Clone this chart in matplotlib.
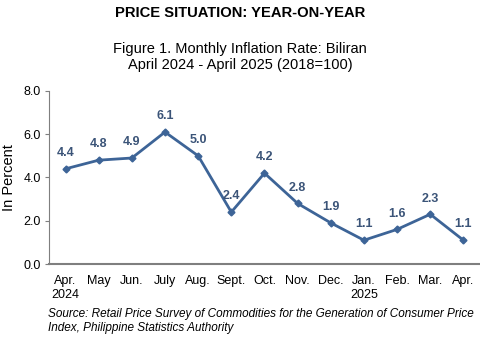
import matplotlib.pyplot as plt
import numpy as np

plt.rcParams["font.family"] = ["Liberation Sans", "DejaVu Sans"]

months = ["Apr.\n2024", "May", "Jun.", "July", "Aug.", "Sept.", "Oct.",
          "Nov.", "Dec.", "Jan.\n2025", "Feb.", "Mar.", "Apr."]
inflation = [4.4, 4.8, 4.9, 6.1, 5.0, 2.4, 4.2, 2.8, 1.9, 1.1, 1.6, 2.3, 1.1]
y_ticks = [0.0, 2.0, 4.0, 6.0, 8.0]

line_color = "#3D6497"
label_color = "#3B5478"

fig = plt.figure(figsize=(4.8, 3.4), dpi=100)
ax = fig.add_axes([0.102, 0.2235, 0.898, 0.509])

x = np.arange(len(months))
ax.plot(x, inflation, color=line_color, linewidth=2,
        marker="D", markersize=3.5)

for xi, yi in zip(x, inflation):
    ax.annotate(f"{yi:.1f}", (xi, yi), textcoords="offset points",
                xytext=(0, 7), ha="center", va="bottom",
                fontsize=9, fontweight="bold", color=label_color)

ax.set_xlim(-0.5, len(months) - 0.5)
ax.set_ylim(0, 8)
ax.set_yticks(y_ticks)
ax.set_yticklabels([f"{v:.1f}" for v in y_ticks], fontsize=9)
ax.set_xticks(x)
ax.set_xticklabels(months, fontsize=9, linespacing=1.25)
ax.tick_params(axis="x", length=0, pad=8)
ax.tick_params(axis="y", length=3, color="#7f7f7f", pad=3)
ax.set_ylabel("In Percent", fontsize=10.5, labelpad=5)

for side in ["top", "right"]:
    ax.spines[side].set_visible(False)
ax.spines["left"].set_color("#7f7f7f")
ax.spines["bottom"].set_color("#7f7f7f")
ax.spines["bottom"].set_linewidth(1.5)

fig.text(0.5, 0.962, "PRICE SITUATION: YEAR-ON-YEAR", ha="center",
         va="center", fontsize=10.6, fontweight="bold")
fig.text(0.5, 0.832, "Figure 1. Monthly Inflation Rate: Biliran\n"
         "April 2024 - April 2025 (2018=100)", ha="center", va="center",
         fontsize=10.5, linespacing=1.2)
fig.text(0.1, 0.055, "Source: Retail Price Survey of Commodities for the "
         "Generation of Consumer Price\nIndex, Philippine Statistics Authority",
         ha="left", va="center", fontsize=8.5, style="italic",
         linespacing=1.25)

fig.savefig("out.png", dpi=100)
